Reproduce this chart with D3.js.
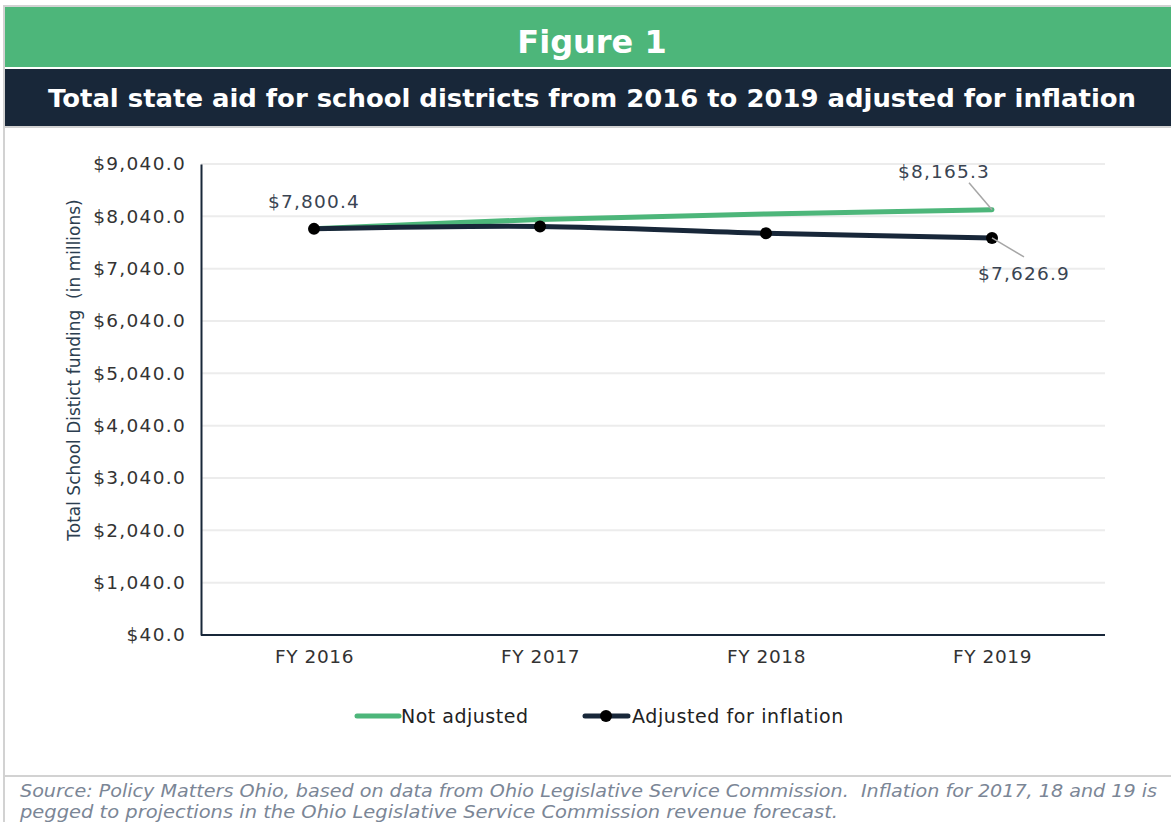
<!DOCTYPE html>
<html>
<head>
<meta charset="utf-8">
<script src="https://cdn.jsdelivr.net/npm/d3@7"></script>
<style>
  html, body { margin: 0; padding: 0; background: #fff; }
  svg { display: block; }
</style>
</head>
<body>
<svg id="chart" width="1171" height="822"></svg>
<script>
// Data
const years = ['FY 2016', 'FY 2017', 'FY 2018', 'FY 2019'];
const notAdjusted = [7800.4, 7980, 8085, 8165.3];
const adjusted = [7800.4, 7846, 7716, 7626.9];
const yTicks = [40, 1040, 2040, 3040, 4040, 5040, 6040, 7040, 8040, 9040];

const GREEN = '#4db67a';
const NAVY = '#182739';
const FONT = "'DejaVu Sans', 'Noto Sans', sans-serif";

const W = 1171, H = 822;
const svg = d3.select('#chart');

// --- frame & headers ---
svg.append('rect').attr('x', 0).attr('y', 0).attr('width', W).attr('height', H).attr('fill', '#fff');
svg.append('rect').attr('x', 4).attr('y', 6).attr('width', W).attr('height', H)
  .attr('fill', 'none').attr('stroke', '#d2d2d2').attr('stroke-width', 2);
svg.append('rect').attr('x', 5).attr('y', 7).attr('width', W).attr('height', 60).attr('fill', GREEN);
svg.append('rect').attr('x', 5).attr('y', 69).attr('width', W).attr('height', 57).attr('fill', NAVY);
svg.append('line').attr('x1', 5).attr('x2', W).attr('y1', 127).attr('y2', 127)
  .attr('stroke', '#d2d2d2').attr('stroke-width', 2);

svg.append('text')
  .attr('x', 592).attr('y', 53)
  .attr('text-anchor', 'middle')
  .attr('font-family', FONT).attr('font-size', 32).attr('font-weight', 700)
  .attr('fill', '#fff')
  .text('Figure 1');

svg.append('text')
  .attr('x', 592).attr('y', 107)
  .attr('text-anchor', 'middle')
  .attr('font-family', FONT).attr('font-size', 24).attr('font-weight', 700)
  .attr('fill', '#fff')
  .attr('textLength', 1088).attr('lengthAdjust', 'spacingAndGlyphs')
  .text('Total state aid for school districts from 2016 to 2019 adjusted for inflation');

// --- plot ---
const plot = { left: 201, right: 1105, top: 164, bottom: 635 };

const x = d3.scalePoint().domain(years).range([plot.left, plot.right]).padding(0.5);
const y = d3.scaleLinear().domain([40, 9040]).range([plot.bottom, plot.top]);
const fmt = v => '$' + d3.format(',.1f')(v);

// gridlines
svg.append('g')
  .selectAll('line')
  .data(yTicks.slice(1))
  .join('line')
  .attr('x1', plot.left).attr('x2', plot.right)
  .attr('y1', d => y(d)).attr('y2', d => y(d))
  .attr('stroke', '#ececec').attr('stroke-width', 2);

// y axis
const yAxis = svg.append('g')
  .attr('transform', `translate(${plot.left},0)`)
  .call(d3.axisLeft(y).tickValues(yTicks).tickFormat(fmt).tickSize(0).tickPadding(15));
yAxis.select('.domain').attr('stroke', NAVY).attr('stroke-width', 2);
yAxis.selectAll('text')
  .attr('font-family', FONT).attr('font-size', 18.5).attr('fill', '#333')
  .attr('letter-spacing', 1.3);

// x axis
const xAxis = svg.append('g')
  .attr('transform', `translate(0,${plot.bottom})`)
  .call(d3.axisBottom(x).tickSize(0).tickPadding(15));
xAxis.select('.domain').attr('stroke', NAVY).attr('stroke-width', 2)
  .attr('d', `M${plot.left},0H${plot.right}`);
xAxis.selectAll('text')
  .attr('font-family', FONT).attr('font-size', 18.5).attr('fill', '#333')
  .attr('letter-spacing', 0.6);

// y title
svg.append('text')
  .attr('transform', `translate(80,370) rotate(-90)`)
  .attr('text-anchor', 'middle')
  .attr('font-family', FONT).attr('font-size', 17).attr('fill', '#2c3e50')
  .attr('xml:space', 'preserve')
  .text('Total School Distict funding  (in millions)');

// lines
const line = d3.line()
  .x((d, i) => x(years[i]))
  .y(d => y(d))
  .curve(d3.curveCatmullRom.alpha(0.5));

svg.append('path')
  .datum(notAdjusted)
  .attr('d', line)
  .attr('fill', 'none').attr('stroke', GREEN)
  .attr('stroke-width', 5).attr('stroke-linecap', 'round');

svg.append('path')
  .datum(adjusted)
  .attr('d', line)
  .attr('fill', 'none').attr('stroke', NAVY)
  .attr('stroke-width', 5).attr('stroke-linecap', 'round');

svg.append('g')
  .selectAll('circle')
  .data(adjusted)
  .join('circle')
  .attr('cx', (d, i) => x(years[i]))
  .attr('cy', d => y(d))
  .attr('r', 6)
  .attr('fill', '#000');

// data labels
const labelStyle = sel => sel
  .attr('font-family', FONT).attr('font-size', 18.5).attr('fill', '#3a4452')
  .attr('letter-spacing', 1.2);

svg.append('text')
  .attr('x', x(years[0])).attr('y', y(notAdjusted[0]) - 21)
  .attr('text-anchor', 'middle')
  .call(labelStyle)
  .text(fmt(notAdjusted[0]));

const lastX = x(years[3]);
svg.append('line')
  .attr('x1', lastX - 23).attr('y1', y(notAdjusted[3]) - 27)
  .attr('x2', lastX).attr('y2', y(notAdjusted[3]))
  .attr('stroke', '#a6a6a6').attr('stroke-width', 1.5);
svg.append('text')
  .attr('x', lastX - 48).attr('y', y(notAdjusted[3]) - 32)
  .attr('text-anchor', 'middle')
  .call(labelStyle)
  .text(fmt(notAdjusted[3]));

svg.append('line')
  .attr('x1', lastX).attr('y1', y(adjusted[3]))
  .attr('x2', lastX + 32).attr('y2', y(adjusted[3]) + 19)
  .attr('stroke', '#a6a6a6').attr('stroke-width', 1.5);
svg.append('text')
  .attr('x', lastX + 32).attr('y', y(adjusted[3]) + 42)
  .attr('text-anchor', 'middle')
  .call(labelStyle)
  .text(fmt(adjusted[3]));

// legend
const legend = svg.append('g').attr('transform', 'translate(0,716)');
legend.append('line')
  .attr('x1', 357).attr('x2', 399).attr('y1', 0).attr('y2', 0)
  .attr('stroke', GREEN).attr('stroke-width', 5).attr('stroke-linecap', 'round');
legend.append('text')
  .attr('x', 401).attr('y', 7)
  .attr('font-family', FONT).attr('font-size', 19).attr('fill', '#222')
  .attr('letter-spacing', 0.5)
  .text('Not adjusted');
legend.append('line')
  .attr('x1', 585).attr('x2', 628).attr('y1', 0).attr('y2', 0)
  .attr('stroke', NAVY).attr('stroke-width', 5).attr('stroke-linecap', 'round');
legend.append('circle').attr('cx', 606).attr('cy', 0).attr('r', 6).attr('fill', '#000');
legend.append('text')
  .attr('x', 632).attr('y', 7)
  .attr('font-family', FONT).attr('font-size', 19).attr('fill', '#222')
  .attr('letter-spacing', 0.6)
  .text('Adjusted for inflation');

// footer
svg.append('line').attr('x1', 5).attr('x2', W).attr('y1', 776).attr('y2', 776)
  .attr('stroke', '#d2d2d2').attr('stroke-width', 2);
const foot = svg.append('text')
  .attr('font-family', FONT).attr('font-size', 17).attr('font-style', 'italic')
  .attr('fill', '#7b8696');
foot.append('tspan').attr('x', 20).attr('y', 797)
  .attr('textLength', 1137).attr('lengthAdjust', 'spacingAndGlyphs')
  .attr('xml:space', 'preserve')
  .text('Source: Policy Matters Ohio, based on data from Ohio Legislative Service Commission.  Inflation for 2017, 18 and 19 is');
foot.append('tspan').attr('x', 20).attr('y', 818)
  .attr('textLength', 818).attr('lengthAdjust', 'spacingAndGlyphs')
  .text('pegged to projections in the Ohio Legislative Service Commission revenue forecast.');
</script>
</body>
</html>
